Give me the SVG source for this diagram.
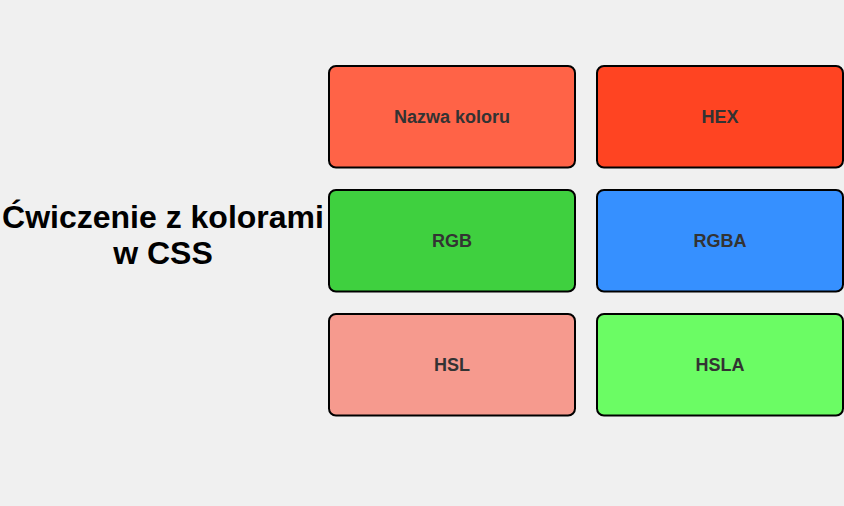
<svg xmlns="http://www.w3.org/2000/svg" width="844" height="506" viewBox="0 0 844 506">
<style>
.box{stroke:#000;stroke-width:2}
.lbl{font-family:"Liberation Sans",Arial,sans-serif;font-weight:bold;font-size:18px;fill:#333;text-anchor:middle;dominant-baseline:central}
.title{font-family:"Liberation Sans",Arial,sans-serif;font-weight:bold;font-size:32px;fill:#000;text-anchor:middle}
</style>
<rect width="844" height="506" fill="#f0f0f0"/>
<g id="title"><text class="title" x="163" y="228">Ćwiczenie z kolorami</text><text class="title" x="163" y="264">w CSS</text></g>
<g id="nazwa"><rect class="box" x="329" y="66" width="246" height="101.5" rx="7" fill="#FF6347"/><text class="lbl" x="452" y="117">Nazwa koloru</text></g>
<g id="hex"><rect class="box" x="597" y="66" width="246" height="101.5" rx="7" fill="#FF4422"/><text class="lbl" x="720" y="117">HEX</text></g>
<g id="rgb"><rect class="box" x="329" y="190" width="246" height="101.5" rx="7" fill="#3FD03F"/><text class="lbl" x="452" y="241">RGB</text></g>
<g id="rgba"><rect class="box" x="597" y="190" width="246" height="101.5" rx="7" fill="#3690FF"/><text class="lbl" x="720" y="241">RGBA</text></g>
<g id="hsl"><rect class="box" x="329" y="314" width="246" height="101.5" rx="7" fill="#F69A8E"/><text class="lbl" x="452" y="365">HSL</text></g>
<g id="hsla"><rect class="box" x="597" y="314" width="246" height="101.5" rx="7" fill="#6BFC64"/><text class="lbl" x="720" y="365">HSLA</text></g>
<g id="connectors"/>
</svg>
